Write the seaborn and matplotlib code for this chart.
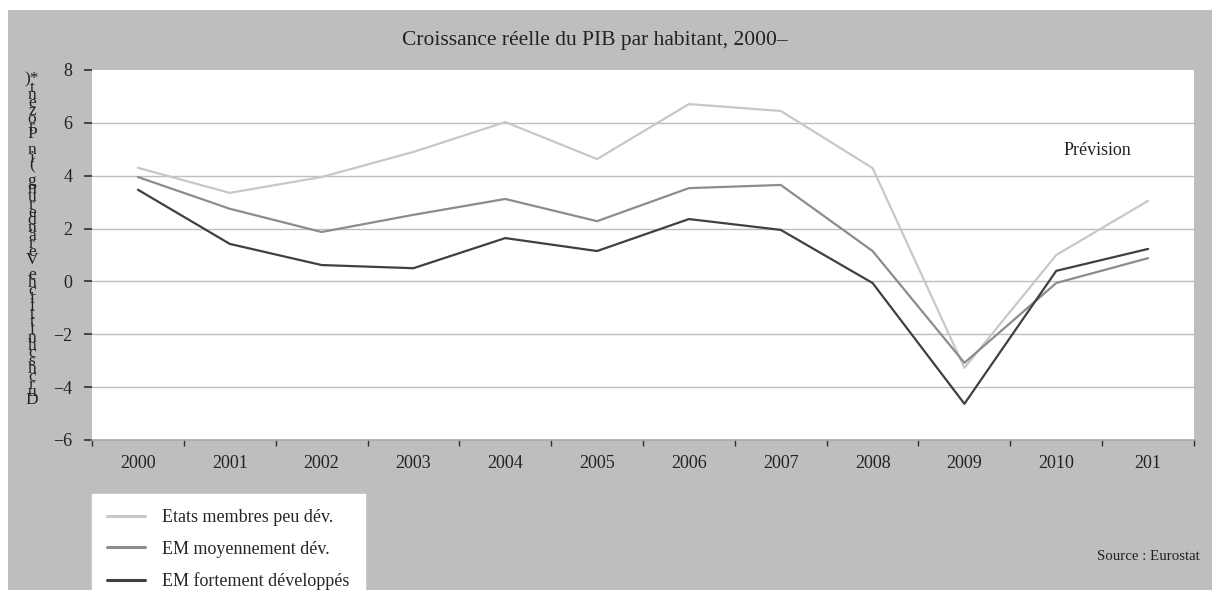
import matplotlib
matplotlib.use("Agg")
import matplotlib.pyplot as plt
from matplotlib.patches import Rectangle
from matplotlib.ticker import FixedLocator, NullFormatter
import seaborn as sns
import pandas as pd

years = ["2000", "2001", "2002", "2003", "2004", "2005",
         "2006", "2007", "2008", "2009", "2010", "201"]
peu_dev = [4.3, 3.35, 3.95, 4.9, 6.03, 4.63, 6.71, 6.45, 4.29, -3.27, 1.0, 3.05]
moy_dev = [3.95, 2.75, 1.87, 2.52, 3.12, 2.28, 3.53, 3.65, 1.15, -3.08, -0.06, 0.88]
fort_dev = [3.47, 1.42, 0.62, 0.5, 1.64, 1.15, 2.36, 1.95, -0.06, -4.63, 0.4, 1.23]
series_names = ["Etats membres peu dév.", "EM moyennement dév.", "EM fortement développés"]
series_colors = ["#c8c8c8", "#8c8c8c", "#404040"]

title = "Croissance réelle du PIB par habitant, 2000–"
ylabel = "Durchschnittliche Veränderung (in Prozent)*"
source = "Source : Eurostat"
note = "Prévision"

rows = []
for name, vals in zip(series_names, [peu_dev, moy_dev, fort_dev]):
    for i, (yr, v) in enumerate(zip(years, vals)):
        rows.append({"pos": i, "year": yr, "value": v, "serie": name})
df = pd.DataFrame(rows)

sns.set_style("white")
plt.rcParams["font.family"] = ["Liberation Serif", "DejaVu Serif"]

W, H = 1212, 590
fig = plt.figure(figsize=(W / 100, H / 100), dpi=100)
fig.patch.set_facecolor("white")
fig.patches.append(Rectangle((8 / W, 0), 1 - 8 / W, 1 - 10 / H,
                             transform=fig.transFigure, facecolor="#bebebe",
                             edgecolor="none", zorder=-10))

ax = fig.add_axes([92 / W, 1 - 440 / H, (1194 - 92) / W, (440 - 70) / H])
ax.set_zorder(2)
ax.set_facecolor("white")

sns.lineplot(data=df, x="pos", y="value", hue="serie", hue_order=series_names,
             palette=series_colors, linewidth=1.6, ax=ax, legend=True)

ax.set_xlim(-0.5, len(years) - 0.5)
ax.set_ylim(-6, 8)
ax.set_yticks(range(-6, 9, 2))
ax.set_yticklabels(["\u2212" + str(-t) if t < 0 else str(t) for t in range(-6, 9, 2)])
for t in range(-4, 8, 2):
    ax.axhline(t, color="#bebebe", linewidth=1.0, zorder=0)

ax.xaxis.set_major_locator(FixedLocator([i - 0.5 for i in range(len(years) + 1)]))
ax.xaxis.set_major_formatter(NullFormatter())
ax.xaxis.set_minor_locator(FixedLocator(list(range(len(years)))))
ax.set_xticklabels(years, minor=True)
ax.tick_params(axis="x", which="major", bottom=True, direction="out", length=4,
               width=1, color="#303030")
ax.tick_params(axis="x", which="minor", bottom=True, length=0, pad=11,
               labelsize=13, labelcolor="#222222")
ax.tick_params(axis="y", left=True, direction="out", length=6, width=1.2,
               color="#303030", pad=8, labelsize=13, labelcolor="#222222")

for side in ["top", "right", "left"]:
    ax.spines[side].set_visible(False)
ax.spines["bottom"].set_color("#a8a8a8")
ax.spines["bottom"].set_linewidth(1.2)

ax.set_xlabel("")
ax.set_ylabel("")

ax.text(10.45, 4.97, note, ha="center", va="center", fontsize=13, color="#222222")

fig.text(0.491, 1 - 40 / H, title, ha="center", va="center", fontsize=15.5,
         color="#222222")

# stacked vertical axis caption, one glyph per line, read from the bottom up
glyphs = list(ylabel[:-2]) + [ylabel[-2:]]
fig.text(32 / W, 1 - 240 / H, "\n".join(reversed(glyphs)),
         ha="center", va="center", fontsize=12.5, linespacing=0.318, color="#222222")

fig.text(1200 / W, 1 - 556 / H, source, ha="right", va="center", fontsize=10.7,
         color="#222222")

handles, labels = ax.get_legend_handles_labels()
ax.get_legend().remove()
leg = fig.legend(handles, labels, loc="upper left",
                 bbox_to_anchor=(92 / W, 1 - 494 / H), frameon=True,
                 fancybox=False, framealpha=1, facecolor="white",
                 edgecolor="white", fontsize=13, handlelength=2.1,
                 handletextpad=0.95, labelspacing=0.8, borderpad=0.85,
                 borderaxespad=0)
for line in leg.get_lines():
    line.set_linewidth(2.2)

fig.savefig("out.png", dpi=100)
